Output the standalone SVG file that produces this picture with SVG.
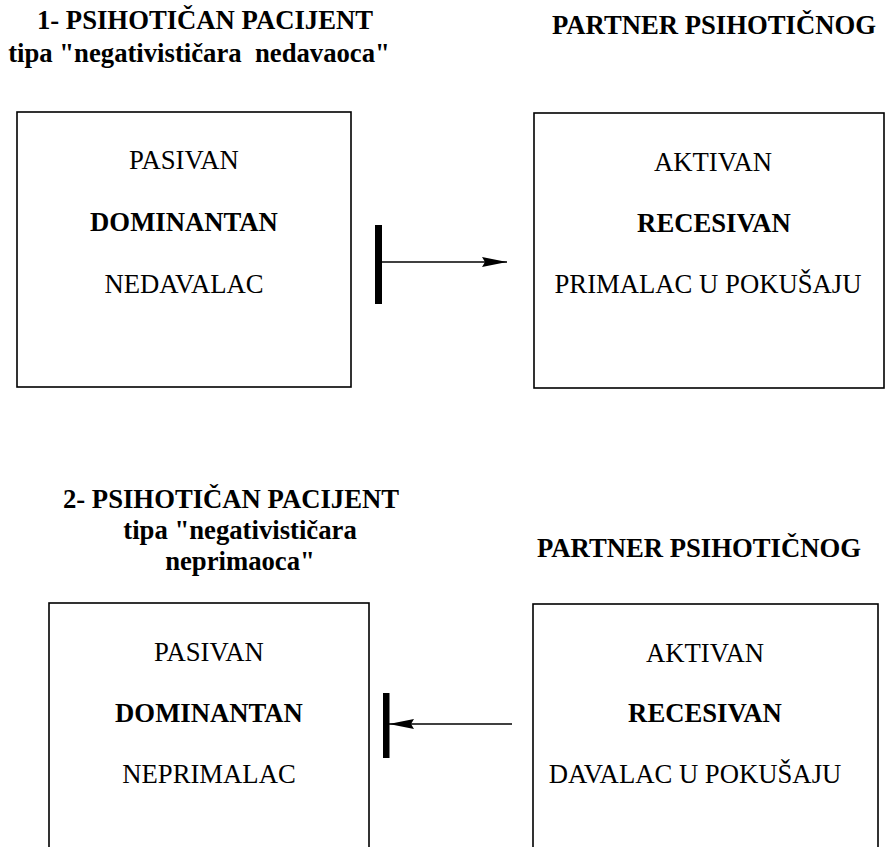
<svg xmlns="http://www.w3.org/2000/svg" width="886" height="847" viewBox="0 0 886 847">
  <style>
    .bg { fill: #ffffff; }
    .box { fill: none; stroke: #000000; stroke-width: 1.6; }
    .title { font-family: "Liberation Serif", "Times New Roman", serif; font-size: 26.7px; font-weight: bold; fill: #000000; text-anchor: middle; white-space: pre; }
    .lbl { font-family: "Liberation Serif", "Times New Roman", serif; font-size: 26.7px; fill: #000000; text-anchor: middle; }
    .bold { font-weight: bold; }
    .wire { stroke: #000000; stroke-width: 1.6; fill: none; }
    .bar { fill: #000000; }
  </style>
  <defs>
    <marker id="head" viewBox="0 0 25 10" refX="25" refY="5" markerWidth="25" markerHeight="10" markerUnits="userSpaceOnUse" orient="auto">
      <path d="M0,0 L25,5 L0,10 L3,5 Z" fill="#000000"/>
    </marker>
  </defs>

  <rect class="bg" x="0" y="0" width="886" height="847"/>

  <!-- headings, upper pair -->
  <g id="heading-1">
    <text class="title" x="205" y="29">1- PSIHOTIČAN PACIJENT</text>
    <text class="title" x="199" y="62">tipa "negativističara  nedavaoca"</text>
  </g>
  <g id="heading-partner-1">
    <text class="title" x="714" y="34">PARTNER PSIHOTIČNOG</text>
  </g>

  <!-- upper pair of boxes -->
  <g id="patient-1">
    <rect class="box" x="17" y="112" width="334" height="275"/>
    <text class="lbl" x="184" y="169">PASIVAN</text>
    <text class="lbl bold" x="184" y="231">DOMINANTAN</text>
    <text class="lbl" x="184" y="293">NEDAVALAC</text>
  </g>
  <g id="partner-1">
    <rect class="box" x="534" y="113" width="350" height="275"/>
    <text class="lbl" x="713" y="171">AKTIVAN</text>
    <text class="lbl bold" x="714" y="232">RECESIVAN</text>
    <text class="lbl" x="708" y="293">PRIMALAC U POKUŠAJU</text>
  </g>

  <!-- headings, lower pair -->
  <g id="heading-2">
    <text class="title" x="231" y="508">2- PSIHOTIČAN PACIJENT</text>
    <text class="title" x="240" y="539">tipa "negativističara</text>
    <text class="title" x="240" y="570">neprimaoca"</text>
  </g>
  <g id="heading-partner-2">
    <text class="title" x="699" y="557">PARTNER PSIHOTIČNOG</text>
  </g>

  <!-- lower pair of boxes (run off the bottom edge) -->
  <g id="patient-2">
    <rect class="box" x="49" y="603" width="320" height="260"/>
    <text class="lbl" x="209" y="661">PASIVAN</text>
    <text class="lbl bold" x="209" y="722">DOMINANTAN</text>
    <text class="lbl" x="209" y="783">NEPRIMALAC</text>
  </g>
  <g id="partner-2">
    <rect class="box" x="533" y="604" width="345" height="260"/>
    <text class="lbl" x="705" y="662">AKTIVAN</text>
    <text class="lbl bold" x="705" y="722">RECESIVAN</text>
    <text class="lbl" x="695" y="783">DAVALAC U POKUŠAJU</text>
  </g>

  <!-- blocked arrows between the boxes -->
  <g id="connectors">
    <rect class="bar" x="375" y="225" width="7" height="79"/>
    <line class="wire" x1="382" y1="262" x2="507" y2="262" marker-end="url(#head)"/>
    <rect class="bar" x="383" y="693" width="6.5" height="65"/>
    <line class="wire" x1="512" y1="724" x2="389" y2="724" marker-end="url(#head)"/>
  </g>
</svg>
